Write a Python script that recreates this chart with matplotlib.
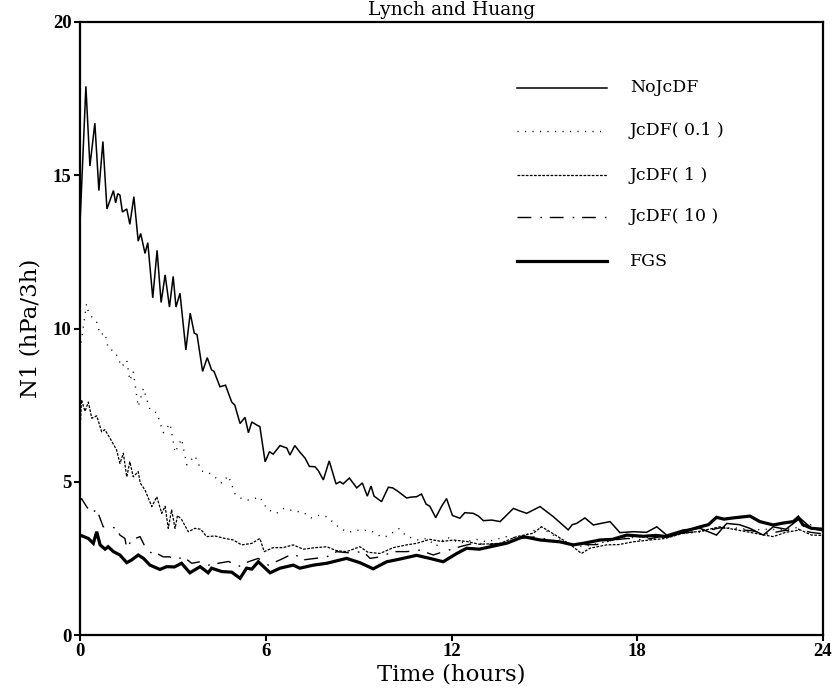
import matplotlib
matplotlib.use("Agg")
import matplotlib.pyplot as plt

# ---- data (time in hours, N1 in hPa/3h) ----
t_nojcdf = [0, 0.19, 0.32, 0.48, 0.61, 0.74, 0.87, 1.08, 1.15, 1.22, 1.29, 1.37, 1.51, 1.61, 1.74, 1.88,
            1.96, 2.1, 2.19, 2.35, 2.49, 2.62, 2.75, 2.89, 3.01, 3.1, 3.23, 3.42, 3.56, 3.69, 3.78, 3.96,
            4.11, 4.25, 4.33, 4.52, 4.7, 4.9, 5.0, 5.17, 5.33, 5.44, 5.55, 5.71, 5.81, 5.98, 6.12, 6.24,
            6.46, 6.68, 6.78, 6.94, 7.1, 7.27, 7.41, 7.59, 7.7, 7.86, 8.05, 8.27, 8.4, 8.5, 8.7, 8.94,
            9.12, 9.28, 9.4, 9.5, 9.74, 9.96, 10.1, 10.28, 10.55, 10.7, 10.87, 11.03, 11.18, 11.3, 11.49,
            11.68, 11.84, 12.03, 12.27, 12.43, 12.7, 12.87, 13.03, 13.3, 13.57, 14.0, 14.2, 14.43, 14.86,
            15.29, 15.77, 15.9, 16.04, 16.31, 16.58, 17.12, 17.44, 17.87, 18.3, 18.63, 18.95, 19.49,
            20.03, 20.56, 20.89, 21.3, 21.64, 22.07, 22.39, 22.8, 23.26, 23.63, 24.0]
v_nojcdf = [13.4, 17.9, 15.3, 16.7, 14.5, 16.1, 13.9, 14.5, 14.1, 14.4, 14.35, 13.8, 13.9, 13.4, 14.3, 12.85,
            13.1, 12.45, 12.8, 11.0, 12.55, 10.85, 11.75, 10.7, 11.7, 10.7, 11.15, 9.3, 10.5, 9.85, 9.8, 8.6,
            9.05, 8.65, 8.6, 8.1, 8.15, 7.6, 7.5, 6.9, 7.1, 6.6, 6.95, 6.85, 6.8, 5.65, 5.98, 5.9,
            6.18, 6.1, 5.87, 6.18, 5.97, 5.77, 5.5, 5.49, 5.36, 5.06, 5.68, 4.93, 5.0, 4.93, 5.12, 4.8,
            4.96, 4.53, 4.86, 4.53, 4.35, 4.82, 4.8, 4.68, 4.47, 4.5, 4.51, 4.6, 4.27, 4.2, 3.83,
            4.2, 4.45, 3.9, 3.81, 3.99, 3.97, 3.88, 3.73, 3.75, 3.7, 4.13, 4.05, 3.97, 4.19,
            3.86, 3.43, 3.6, 3.64, 3.82, 3.59, 3.7, 3.34, 3.37, 3.35, 3.53, 3.26, 3.43,
            3.48, 3.26, 3.64, 3.6, 3.48, 3.26, 3.53, 3.45, 3.81, 3.48, 3.4]

t_jcdf01 = [0, 0.1, 0.21, 0.27, 0.43, 0.54, 0.65, 0.81, 0.91, 1.13, 1.35, 1.51, 1.61, 1.72, 1.88, 2.05,
            2.26, 2.48, 2.69, 2.91, 3.07, 3.28, 3.45, 3.71, 3.93, 4.15, 4.36, 4.58, 4.79, 5.01, 5.22,
            5.45, 5.81, 6.05, 6.35, 6.59, 6.9, 7.21, 7.48, 7.7, 7.97, 8.4, 8.67, 9.04, 9.4, 9.74, 9.91,
            10.3, 10.55, 10.93, 11.2, 11.5, 11.84, 12.27, 12.81, 13.14, 13.78, 14.2, 14.86, 15.29,
            15.72, 16.26, 16.8, 17.44, 18.09, 18.6, 19.49, 20.0, 20.67, 21.1, 21.75, 22.2, 22.7,
            23.26, 23.63, 24.0]
v_jcdf01 = [9.3, 10.0, 10.8, 10.55, 10.3, 10.2, 9.8, 9.85, 9.35, 9.25, 8.75, 8.97, 8.3, 8.6, 7.45, 8.05,
            7.35, 7.25, 6.6, 6.9, 5.95, 6.4, 5.55, 5.85, 5.35, 5.3, 5.15, 4.95, 5.2, 4.6, 4.45,
            4.4, 4.5, 4.1, 3.97, 4.13, 4.05, 4.0, 3.82, 3.9, 3.86, 3.48, 3.35, 3.43, 3.4, 3.2, 3.22,
            3.47, 3.22, 3.1, 3.15, 2.9, 3.2, 3.0, 3.12, 3.04, 3.21, 3.15, 3.52, 3.26,
            3.0, 2.88, 3.0, 3.15, 3.2, 3.15, 3.32, 3.35, 3.48, 3.5, 3.43, 3.45, 3.43,
            3.52, 3.6, 3.35]

t_jcdf1 = [0, 0.05, 0.16, 0.27, 0.38, 0.54, 0.7, 0.8, 0.97, 1.18, 1.29, 1.4, 1.51, 1.61, 1.72, 1.88,
           1.95, 2.1, 2.32, 2.48, 2.64, 2.75, 2.85, 2.96, 3.07, 3.15, 3.28, 3.5, 3.71, 3.9, 4.09, 4.36,
           4.68, 4.95, 5.22, 5.55, 5.81, 5.95, 6.24, 6.55, 6.89, 7.21, 7.6, 7.97, 8.29, 8.61, 9.04,
           9.3, 9.69, 10.12, 10.55, 10.87, 11.3, 11.7, 12.06, 12.5, 12.9, 13.57, 14.1, 14.64, 14.91,
           15.18, 15.61, 15.9, 16.2, 16.47, 17.01, 17.4, 17.87, 18.41, 18.9, 19.49, 20.0, 20.67,
           21.1, 21.53, 21.9, 22.39, 22.8, 23.26, 23.63, 24.0]
v_jcdf1 = [6.6, 7.67, 7.3, 7.6, 7.07, 7.15, 6.63, 6.7, 6.42, 6.04, 5.6, 5.93, 5.16, 5.65, 5.16, 5.33,
           4.95, 4.73, 4.19, 4.51, 3.97, 4.2, 3.48, 4.08, 3.48, 3.9, 3.77, 3.37, 3.48, 3.45, 3.21, 3.23,
           3.15, 3.1, 2.94, 2.99, 3.15, 2.72, 2.85, 2.85, 2.94, 2.8, 2.85, 2.88, 2.75, 2.72, 2.88,
           2.7, 2.66, 2.85, 2.94, 2.99, 3.12, 3.05, 3.1, 3.05, 2.96, 2.99, 3.21, 3.32, 3.53,
           3.37, 3.1, 2.9, 2.66, 2.83, 2.94, 2.95, 3.04, 3.1, 3.15, 3.32, 3.38, 3.53,
           3.45, 3.37, 3.3, 3.21, 3.35, 3.43, 3.26, 3.25]

t_jcdf10 = [0, 0.05, 0.21, 0.38, 0.54, 0.75, 0.91, 1.18, 1.29, 1.45, 1.51, 1.67, 1.94, 2.1, 2.37, 2.5,
            2.69, 2.9, 3.07, 3.34, 3.61, 3.88, 4.14, 4.47, 4.8, 5.11, 5.44, 5.76, 6.08, 6.46, 6.89,
            7.21, 7.6, 7.97, 8.29, 8.7, 9.15, 9.37, 9.7, 10.12, 10.55, 10.98, 11.41, 11.84, 12.27,
            12.7, 13.2, 13.7, 14.2, 14.7, 15.2, 15.7, 16.2, 16.7, 17.2, 17.7, 18.2, 18.7, 19.2,
            19.7, 20.2, 20.7, 21.2, 21.7, 22.2, 22.7, 23.2, 23.6, 24.0]
v_jcdf10 = [4.4, 4.45, 4.19, 3.97, 4.1, 3.53, 3.55, 3.48, 3.26, 3.15, 2.83, 3.1, 3.21, 2.88, 2.61, 2.65,
            2.55, 2.55, 2.45, 2.55, 2.34, 2.39, 2.28, 2.34, 2.4, 2.23, 2.39, 2.5, 2.28, 2.45, 2.66,
            2.45, 2.5, 2.55, 2.72, 2.68, 2.72, 2.5, 2.55, 2.72, 2.72, 2.77, 2.61, 2.75, 2.88,
            2.99, 2.95, 3.0, 3.15, 3.2, 3.1, 3.0, 2.95, 2.95, 3.1, 3.15, 3.1, 3.2, 3.3,
            3.35, 3.4, 3.5, 3.45, 3.4, 3.3, 3.4, 3.45, 3.35, 3.3]

t_fgs = [0, 0.27, 0.43, 0.54, 0.65, 0.81, 0.91, 1.08, 1.29, 1.51, 1.67, 1.88, 2.05, 2.26, 2.58, 2.8,
         3.05, 3.28, 3.55, 3.88, 4.14, 4.25, 4.58, 4.9, 5.17, 5.38, 5.55, 5.76, 6.14, 6.46, 6.89,
         7.1, 7.54, 7.97, 8.61, 9.04, 9.47, 9.91, 10.3, 10.87, 11.3, 11.73, 12.17, 12.49, 12.9,
         13.35, 13.8, 14.32, 14.86, 15.5, 15.93, 16.3, 16.8, 17.2, 17.66, 18.2, 18.6, 18.95,
         19.49, 20.03, 20.3, 20.56, 20.8, 21.1, 21.64, 21.96, 22.39, 22.7, 23.04, 23.2, 23.35,
         23.63, 24.0]
v_fgs = [3.26, 3.15, 2.99, 3.37, 2.94, 2.8, 2.88, 2.72, 2.61, 2.36, 2.45, 2.61, 2.5, 2.28, 2.14, 2.23,
         2.22, 2.34, 2.03, 2.23, 2.03, 2.18, 2.07, 2.05, 1.85, 2.18, 2.15, 2.39, 2.03, 2.18, 2.28,
         2.18, 2.28, 2.34, 2.5, 2.36, 2.16, 2.39, 2.47, 2.6, 2.5, 2.39, 2.66, 2.83, 2.8,
         2.9, 3.0, 3.21, 3.1, 3.04, 2.94, 3.0, 3.1, 3.12, 3.26, 3.22, 3.25, 3.21,
         3.37, 3.53, 3.6, 3.84, 3.78, 3.82, 3.88, 3.7, 3.59, 3.65, 3.7, 3.84, 3.6,
         3.48, 3.45]

labels = ["NoJcDF", "JcDF( 0.1 )", "JcDF( 1 )", "JcDF( 10 )", "FGS"]
x_ticks = [0, 6, 12, 18, 24]
y_ticks = [0, 5, 10, 15, 20]

# ---- styling ----
series = [
    (t_nojcdf, v_nojcdf, dict(lw=1.1, ls="-")),
    (t_jcdf01, v_jcdf01, dict(lw=1.0, ls=(0, (0.8, 4.6)))),
    (t_jcdf1, v_jcdf1, dict(lw=0.9, ls=(0, (2.2, 1.1)))),
    (t_jcdf10, v_jcdf10, dict(lw=1.0, ls=(0, (10, 6.5, 1.2, 5.5)))),
    (t_fgs, v_fgs, dict(lw=2.3, ls="-")),
]

fig = plt.figure(figsize=(8.35, 6.91), dpi=100)
ax = fig.add_axes([80 / 835, 1 - 635 / 691, 743 / 835, 613 / 691])

for t, v, st in series:
    ax.plot(t, v, color="black", solid_joinstyle="miter", **st)

ax.set_xlim(0, 24)
ax.set_ylim(0, 20)
ax.set_xticks(x_ticks)
ax.set_yticks(y_ticks)
ax.tick_params(direction="out", length=4, width=1.5, top=False, right=False, pad=2)
for lab in ax.get_xticklabels() + ax.get_yticklabels():
    lab.set_fontfamily("Liberation Serif")
    lab.set_fontweight("bold")
    lab.set_fontsize(13.5)
for s in ax.spines.values():
    s.set_linewidth(1.6)

ax.set_xlabel("Time (hours)", family="DejaVu Serif", fontsize=16.5, labelpad=2)
ax.set_ylabel("N1 (hPa/3h)", family="DejaVu Serif", fontsize=16.5, labelpad=8)

# manual legend in axes coordinates
ys_leg = [(635 - y) / 613 for y in (87.5, 130.5, 175, 216.5, 261)]
x0, x1, xt = (517 - 80) / 743, (607 - 80) / 743, (630 - 80) / 743
for (t, v, st), lab, yl in zip(series, labels, ys_leg):
    ax.plot([x0, x1], [yl, yl], color="black", transform=ax.transAxes, **st)
    ax.text(xt, yl, lab, transform=ax.transAxes, family="DejaVu Serif",
            fontsize=12.5, va="center", ha="left")

fig.text((80 + 823) / 2 / 835, 1 - 1 / 691, "Lynch and Huang", family="DejaVu Serif",
         fontsize=13.5, ha="center", va="top")

fig.savefig("out.png", dpi=100)
